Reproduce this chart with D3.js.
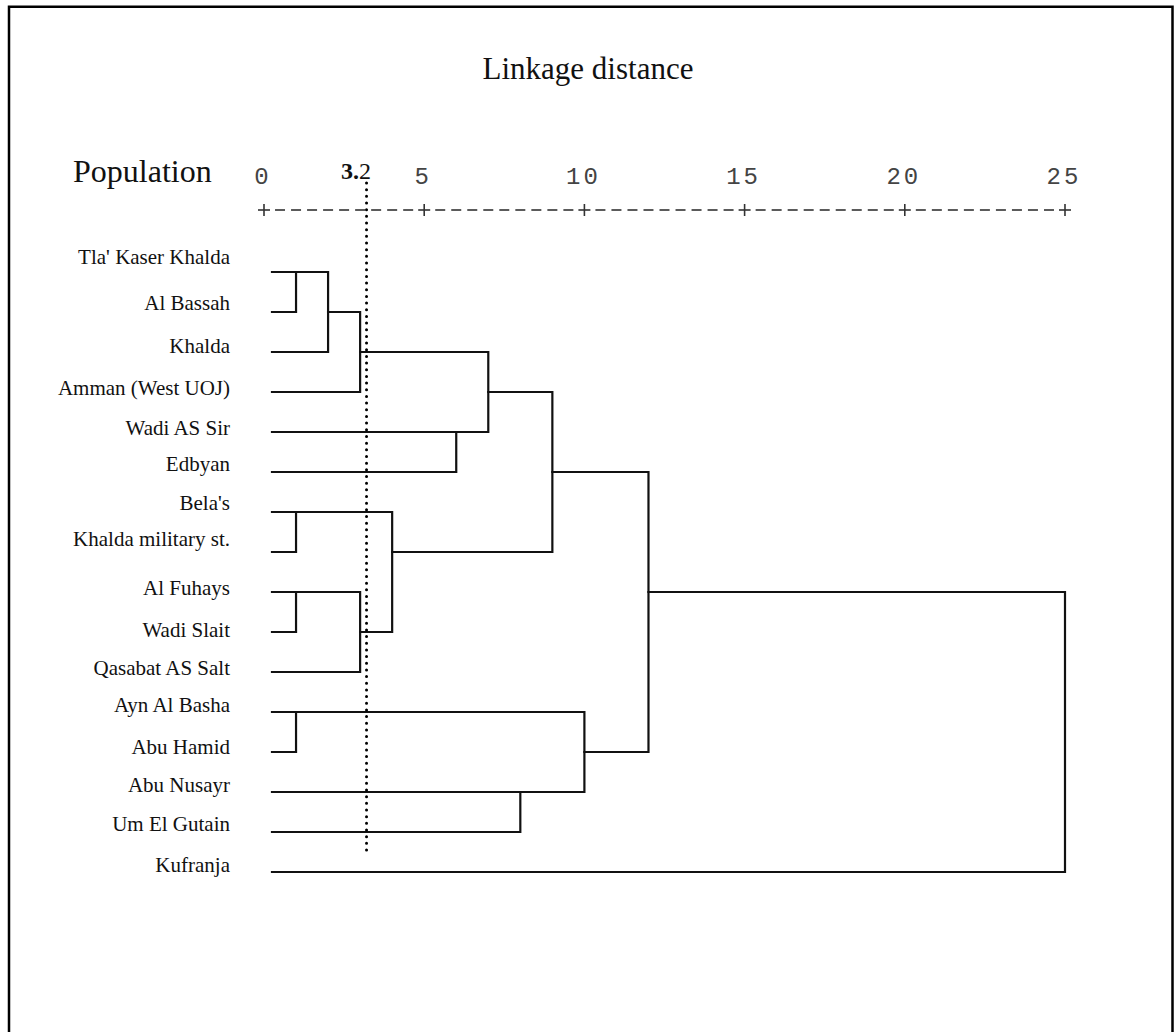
<!DOCTYPE html>
<html>
<head>
<meta charset="utf-8">
<script src="https://cdn.jsdelivr.net/npm/d3@7/dist/d3.min.js"></script>
<style>
  html, body { margin: 0; padding: 0; background: #fff; }
  svg { display: block; }
</style>
</head>
<body>
<svg id="chart" width="1174" height="1032"></svg>
<script>
// Leaf order as listed down the dendrogram
const leafNames = [
  "Tla' Kaser Khalda", "Al Bassah", "Khalda", "Amman (West UOJ)",
  "Wadi AS Sir", "Edbyan", "Bela's", "Khalda military st.",
  "Al Fuhays", "Wadi Slait", "Qasabat AS Salt", "Ayn Al Basha",
  "Abu Hamid", "Abu Nusayr", "Um El Gutain", "Kufranja"
];

// Agglomeration schedule: step i joins mergeLeft[i] and mergeRight[i]
// (ids < 16 are leaves, id 16 + i is the cluster formed at step i)
const mergeLeft   = [0, 6, 8, 11, 16, 20, 18, 17, 4, 21, 13, 25, 19, 27, 29];
const mergeRight  = [1, 7, 9, 12,  2,  3, 10, 22, 5, 24, 14, 23, 26, 28, 15];
const mergeHeight = [1, 1, 1,  1,  2,  3,  3,  4, 6,  7,  8,  9, 10, 12, 25];

// Rescaled distance axis
const tickValues = [0, 5, 10, 15, 20, 25];
const cutValue = 3.2;

// Small baseline adjustments for the row labels
const labelNudge = [-8, -2, 1, 3, 3, -1, -2, -6, 3, 5, 3, 0, 2, 0, -1, 0];

const svg = d3.select("#chart");
const ink = "#111";

const x = d3.scaleLinear().domain([0, 25]).range([264, 1065]);
const y = d3.scaleLinear().domain([0, leafNames.length - 1]).range([272, 872]);
const leafStart = x(0) + 8;

// Frame (open at the bottom)
svg.append("path")
  .attr("d", "M9,1032 V6.7 H1172.5 V1032")
  .attr("fill", "none")
  .attr("stroke", "#000")
  .attr("stroke-width", 2.5);

// Titles
svg.append("text")
  .attr("x", 588).attr("y", 79)
  .attr("text-anchor", "middle")
  .style("font-family", "'Liberation Serif', 'Times New Roman', serif")
  .style("font-size", "31px")
  .attr("fill", ink)
  .text("Linkage distance");

svg.append("text")
  .attr("x", 73).attr("y", 182)
  .style("font-family", "'Liberation Serif', 'Times New Roman', serif")
  .style("font-size", "32px")
  .attr("fill", ink)
  .text("Population");

// Tick labels in a monospaced face
const axisG = svg.append("g");
axisG.selectAll("text.tick")
  .data(tickValues)
  .join("text")
  .attr("class", "tick")
  .attr("x", d => x(d) - 1)
  .attr("y", 184)
  .attr("text-anchor", "middle")
  .style("font-family", "'Liberation Mono', 'Courier New', monospace")
  .style("font-size", "24px")
  .style("letter-spacing", "3px")
  .attr("fill", "#444")
  .text(d => d);

// "+---------+" ruler: plus at each tick, nine dashes between
const rulerY = 210;
const step = x(5) - x(0);
const dashes = [];
tickValues.slice(0, -1).forEach(t => {
  for (let k = 1; k < 10; k++) dashes.push(x(t) + k * step / 10);
});
axisG.selectAll("line.dash")
  .data(dashes)
  .join("line")
  .attr("class", "dash")
  .attr("x1", d => d - 5).attr("x2", d => d + 5)
  .attr("y1", rulerY).attr("y2", rulerY)
  .attr("stroke", "#333").attr("stroke-width", 1.6);
const plus = axisG.selectAll("g.plus")
  .data(tickValues)
  .join("g")
  .attr("class", "plus")
  .attr("transform", d => `translate(${x(d)},${rulerY})`);
plus.append("line").attr("x1", -6).attr("x2", 6).attr("y1", 0).attr("y2", 0)
  .attr("stroke", "#333").attr("stroke-width", 1.6);
plus.append("line").attr("x1", 0).attr("x2", 0).attr("y1", -6).attr("y2", 6)
  .attr("stroke", "#333").attr("stroke-width", 1.6);

// Row labels
svg.append("g").selectAll("text")
  .data(leafNames)
  .join("text")
  .attr("x", 230)
  .attr("y", (d, i) => y(i) + labelNudge[i])
  .attr("text-anchor", "end")
  .style("font-family", "'Liberation Serif', 'Times New Roman', serif")
  .style("font-size", "21px")
  .attr("fill", ink)
  .text(d => d);

// Dendrogram: each cluster sits on the floor of the mid row of its children
const n = leafNames.length;
const row = d3.range(n);
const height = d3.range(n).map(() => 0);
mergeLeft.forEach((a, i) => {
  const b = mergeRight[i];
  row.push(Math.floor((row[a] + row[b]) / 2));
  height.push(mergeHeight[i]);
});
const startX = id => (id < n ? leafStart : x(height[id]));

const links = mergeLeft.map((a, i) => ({ a, b: mergeRight[i], h: mergeHeight[i] }));
svg.append("g").selectAll("path")
  .data(links)
  .join("path")
  .attr("d", d => {
    const p = d3.path();
    p.moveTo(startX(d.a), y(row[d.a]));
    p.lineTo(x(d.h), y(row[d.a]));
    p.lineTo(x(d.h), y(row[d.b]));
    p.lineTo(startX(d.b), y(row[d.b]));
    return p.toString();
  })
  .attr("fill", "none")
  .attr("stroke", ink)
  .attr("stroke-width", 2.2)
  .attr("stroke-linecap", "square");

// Cut line with its level
svg.append("line")
  .attr("x1", x(cutValue)).attr("x2", x(cutValue))
  .attr("y1", 183).attr("y2", 853)
  .attr("stroke", "#000")
  .attr("stroke-width", 3)
  .attr("stroke-linecap", "round")
  .attr("stroke-dasharray", "0,6.67");

const cutLabel = svg.append("text")
  .attr("x", x(cutValue) + 4.5)
  .attr("y", 179)
  .attr("text-anchor", "end")
  .style("font-family", "'Liberation Serif', 'Times New Roman', serif")
  .style("font-size", "24px")
  .attr("fill", ink);
cutLabel.append("tspan").style("font-weight", "bold").text(String(cutValue).split(".")[0] + ".");
cutLabel.append("tspan").text(String(cutValue).split(".")[1]);
</script>
</body>
</html>
